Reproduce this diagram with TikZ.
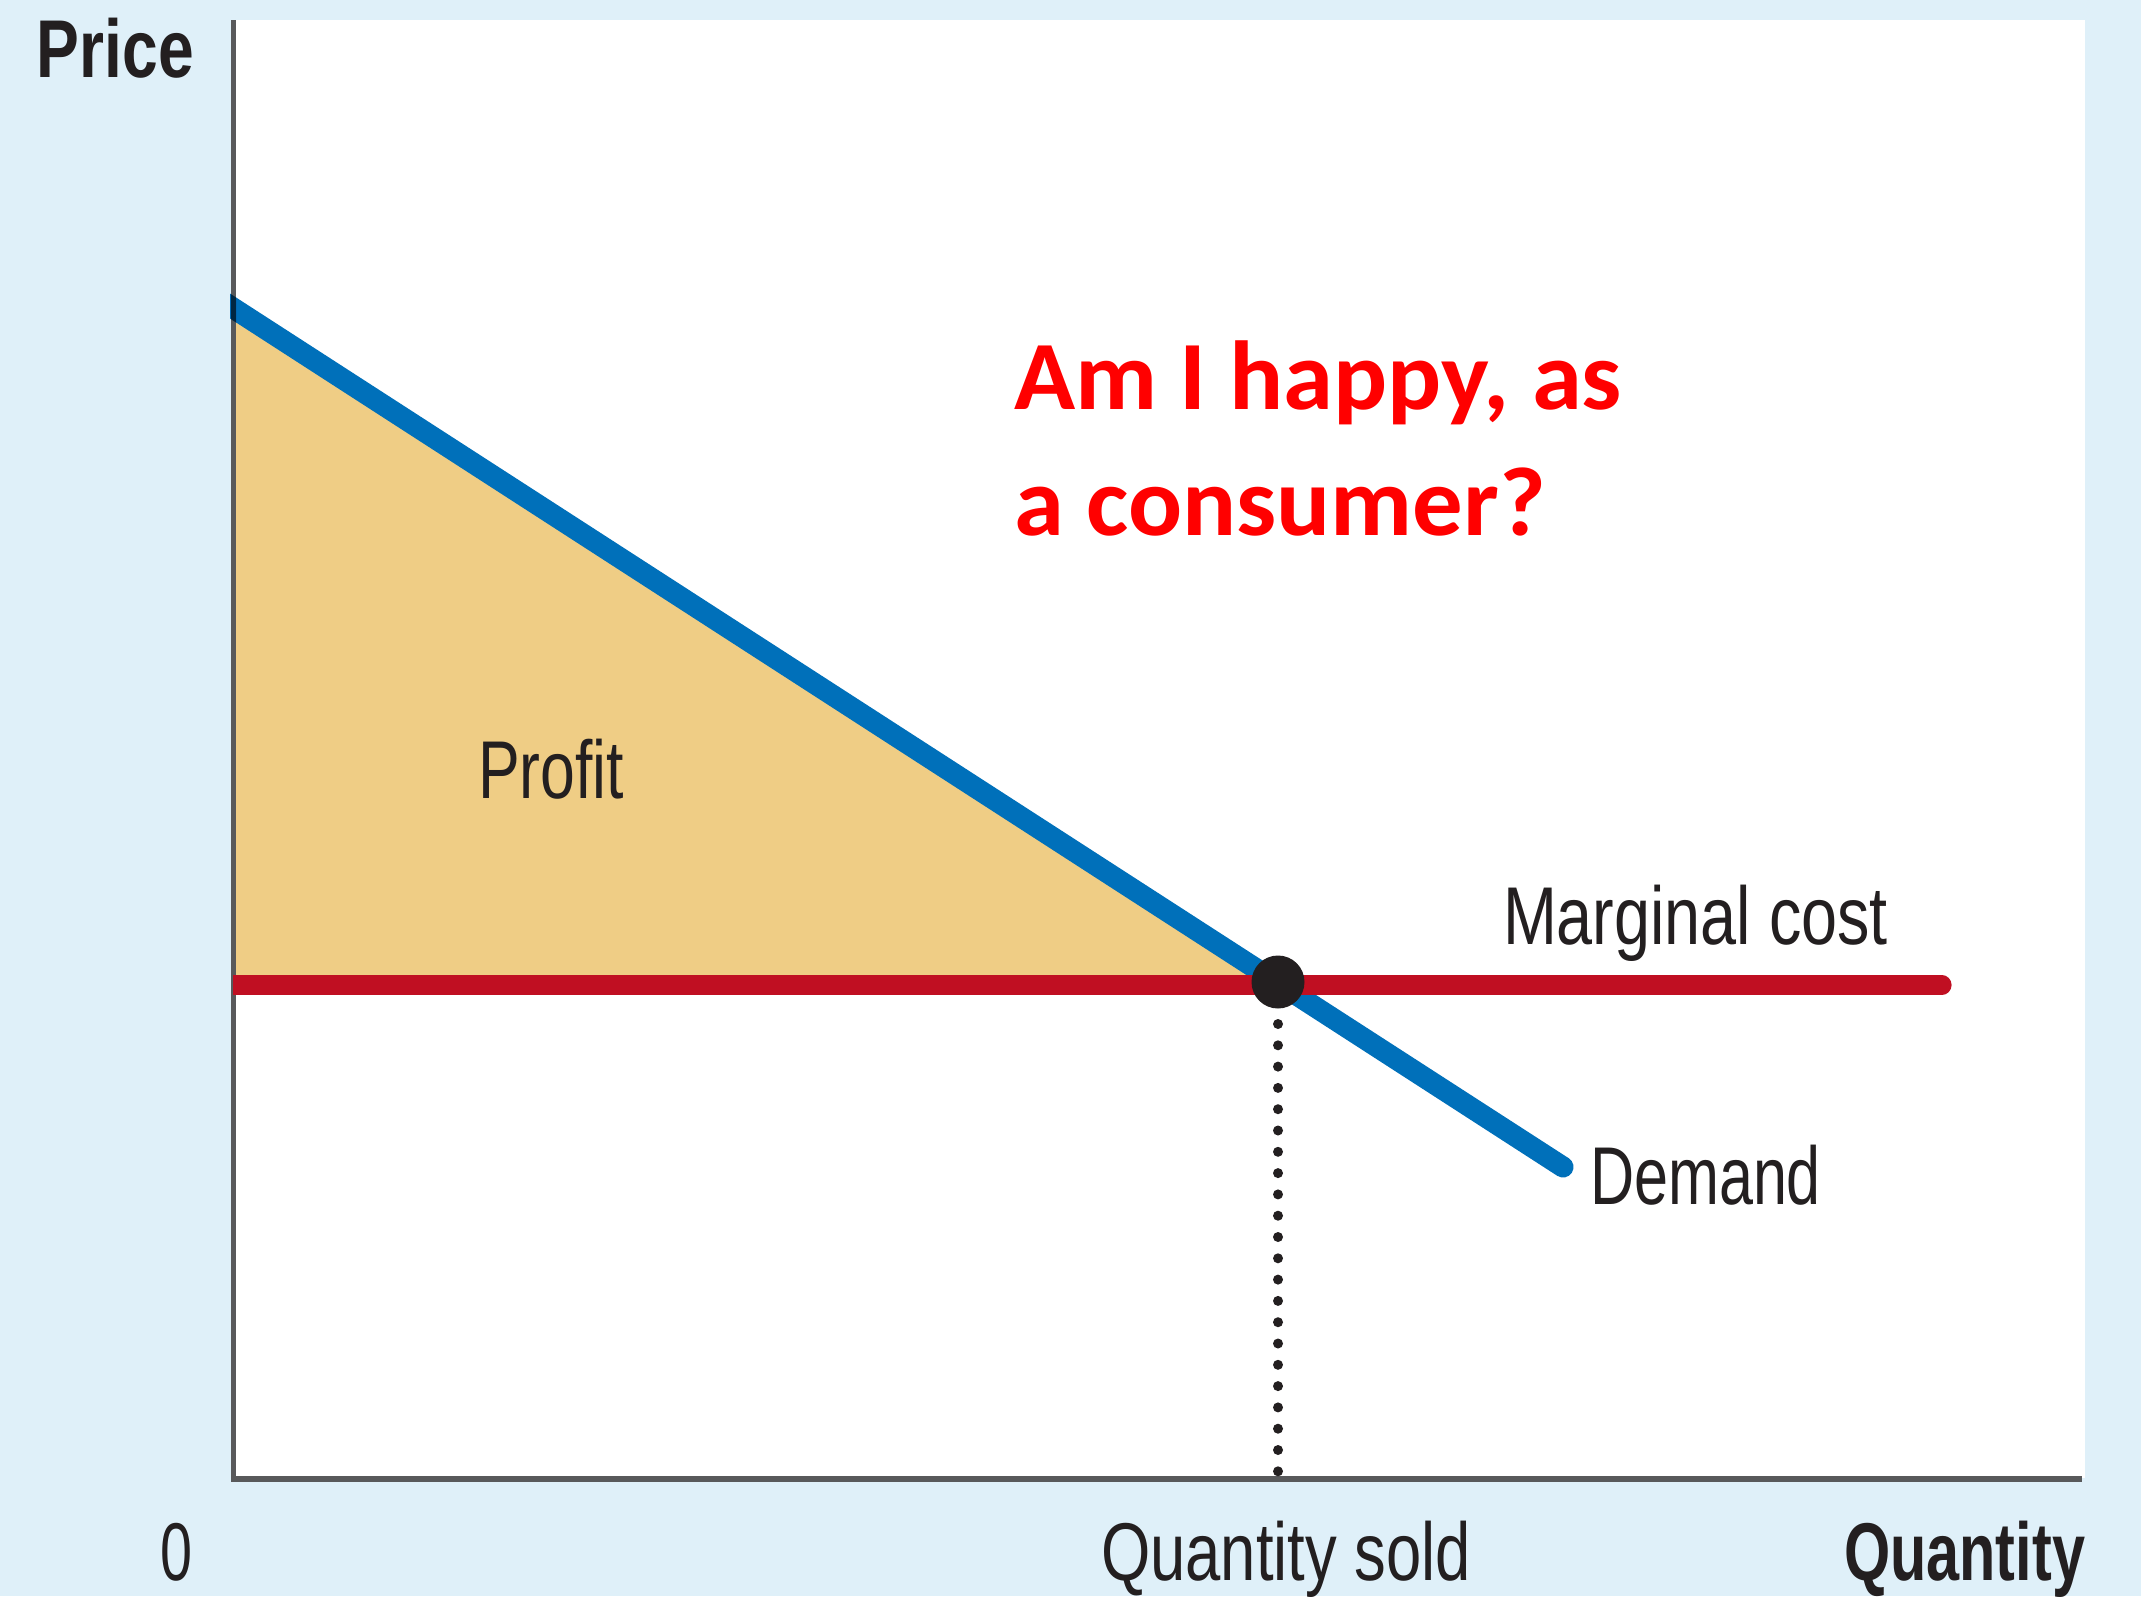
\documentclass[tikz,border=0pt]{standalone}
\usepackage{fontspec}
\setmainfont{Liberation Sans}
\newfontfamily\redfont{Carlito}
\definecolor{panelbg}{HTML}{DFF0F9}
\definecolor{profitfill}{HTML}{EFCD85}
\definecolor{demandblue}{HTML}{0070BA}
\definecolor{costred}{HTML}{C00F22}
\definecolor{inkdark}{HTML}{231F20}
\definecolor{axisgrey}{HTML}{58595B}
\newcommand{\fitw}[2]{\resizebox{#1}{\height}{#2}}
\tikzset{
  axisline/.style={draw=axisgrey,line width=2.8pt,line cap=butt},
  curve/.style={line width=10.5pt,line cap=round},
  lab/.style={inner sep=0pt,outer sep=0pt,anchor=base west,text=inkdark,font=\fontsize{41}{41}\selectfont},
  boldlab/.style={lab,font=\fontsize{41}{41}\selectfont\bfseries},
  question/.style={inner sep=0pt,outer sep=0pt,anchor=base west,text=red,font=\redfont\fontsize{49}{49}\selectfont\bfseries},
}
\begin{document}
\begin{tikzpicture}[x=0.5pt,y=-0.5pt]
\useasboundingbox (0,0) rectangle (2141,1596);
\fill[panelbg] (0,0) rectangle (2141,1596);
\fill[white] (236,20) rectangle (2085,1478);
\coordinate (top) at (233.5,20);
\coordinate (origin) at (233.5,1479);
\coordinate (right) at (2082,1479);
\coordinate (dstart) at (233,308);
\coordinate (dend) at (1563,1167);
\coordinate (mstart) at (233,985);
\coordinate (mend) at (1942,985);
\coordinate (eq) at (1278,982);
\coordinate (qfoot) at (1278,1478);
\coordinate (dotstart) at (1278,1024);
\fill[profitfill] (dstart) -- (1278,984) -- (mstart) -- cycle;
\begin{scope}
  \clip (233,0) rectangle (2141,1596);
  \draw[curve,demandblue] (133,243.4) -- (dend);
\end{scope}
\draw[axisline] (top) -- (origin) -- (right);
\begin{scope}[blend mode=multiply]
  \clip (230,0) rectangle (236,1596);
  \draw[curve,line cap=butt,demandblue] (133,243.4) -- (300,351.3);
\end{scope}
\begin{scope}
  \clip (233,0) rectangle (2141,1596);
  \draw[curve,costred,line width=9.6pt] (150,985) -- (mend);
\end{scope}
\draw[inkdark,line width=5pt,line cap=round,dash pattern=on 0pt off 10.65pt] (dotstart) -- (qfoot);
\node[circle,fill=inkdark,inner sep=0pt,minimum size=26.5pt] (dot) at (eq) {};
\node[boldlab] (price) at (37,77) {\fitw{78.5pt}{Price}};
\node[lab] (profit) at (478,798) {\fitw{73pt}{Profit}};
\node[lab] (mc) at (1503,944) {\fitw{192.5pt}{Marginal cost}};
\node[lab] (demand) at (1590,1204) {\fitw{115.5pt}{Demand}};
\node[lab] (zero) at (160,1580) {\fitw{16pt}{0}};
\node[lab] (qsold) at (1101,1580) {\fitw{185pt}{Quantity sold}};
\node[boldlab] (qty) at (1844,1580) {\fitw{120.5pt}{Quantity}};
\node[question] (q1) at (1014,409) {\fitw{304pt}{Am I happy, as}};
\node[question] (q2) at (1014,535) {\fitw{266pt}{a consumer?}};
\end{tikzpicture}
\end{document}
